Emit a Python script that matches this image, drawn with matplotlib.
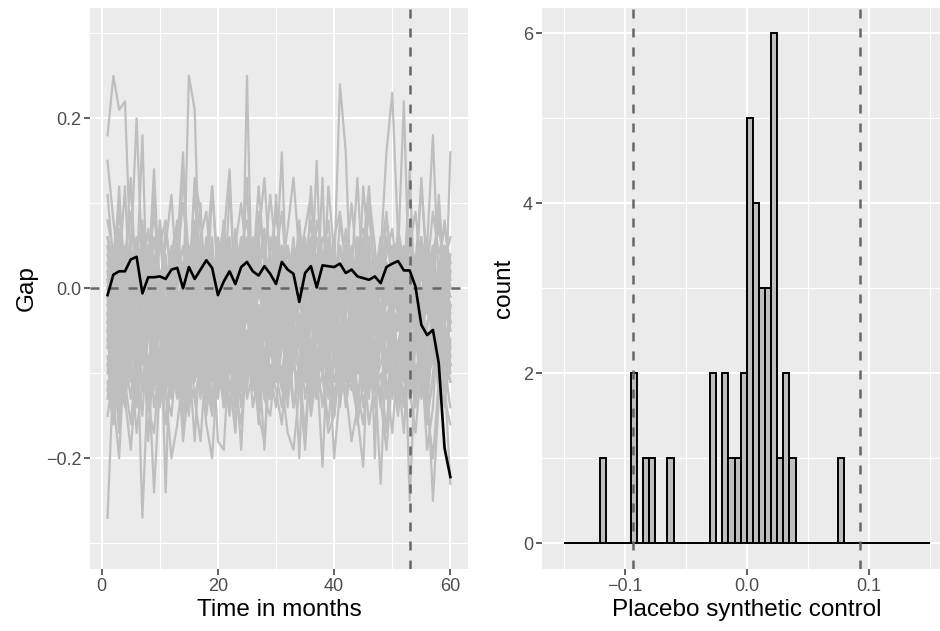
import numpy as np
import matplotlib.pyplot as plt
from matplotlib.ticker import FuncFormatter

plt.rcParams['font.family'] = ['Liberation Sans', 'DejaVu Sans']

# ---------------- data ----------------
months = list(range(1, 61))

# treated unit gap (black line)
treated_gap = [-0.008, 0.016, 0.020, 0.020, 0.034, 0.037, -0.006, 0.013, 0.013, 0.014,
               0.011, 0.022, 0.024, 0.000, 0.025, 0.011, 0.022, 0.033, 0.024, -0.008,
               0.008, 0.020, 0.005, 0.025, 0.031, 0.020, 0.015, 0.026, 0.017, 0.005,
               0.031, 0.022, 0.017, -0.016, 0.018, 0.026, 0.001, 0.027, 0.026, 0.025,
               0.029, 0.018, 0.022, 0.014, 0.012, 0.010, 0.014, 0.006, 0.025, 0.029,
               0.032, 0.021, 0.021, 0.002, -0.043, -0.055, -0.049, -0.088, -0.188, -0.222]

# placebo gaps (grey lines), in hundredths
placebo_gaps_pct = [
    [18,25,21,22,3,-2,1,5,-4,2, 0,-3,4,1,-2,3,-5,0,2,-1, 4,-3,1,6,-2,0,3,-4,2,1, -1,5,-3,0,2,-2,4,1,-4,3, 0,2,-1,5,-3,1,0,4,-2,3, 1,-3,2,0,-4,3,1,-2,5,2],
    [15,8,2,-3,5,0,-6,3,-2,7, -4,1,-8,2,4,-3,0,6,-5,-2, 3,-7,1,4,-1,-6,2,5,-3,0, -4,3,-2,6,-5,1,-3,0,4,-7, 2,-1,5,-4,0,-2,3,-6,1,4, -3,0,-5,2,6,-1,-4,3,0,-2],
    [-27,-10,-6,-12,-4,-8,-2,-9,-5,-13, -7,-3,-10,-6,-11,-4,-8,-12,-5,-9, -3,-10,-7,-14,-6,-2,-9,-11,-5,-8, -12,-4,-7,-10,-3,-9,-13,-6,-8,-4, -11,-7,-5,-10,-2,-8,-12,-6,-9,-4, -7,-11,-5,-3,-9,-13,-6,-8,-10,-7],
    [6,3,9,1,4,20,2,7,-1,5, 8,0,4,10,3,-2,6,9,1,4, 7,2,-3,5,8,1,6,-1,4,9, 2,5,0,7,3,-2,8,4,1,6, 9,3,-1,5,7,2,4,0,8,3, 6,1,5,9,2,-2,4,7,3,6],
    [-5,2,-8,4,-3,1,18,-6,0,-9, 3,-4,-7,2,-1,-10,5,-3,-6,1, -8,0,-4,-11,2,-5,-2,-9,1,-6, -3,-8,4,-1,-7,-4,0,-10,-2,3, -6,-9,-1,-5,2,-8,-3,-7,0,-4, -10,1,-6,-2,-8,-5,3,-9,-1,-4],
    [-3,-9,-5,-12,-7,-4,-27,-10,-6,-2, -11,-8,-5,-13,-3,-9,-6,-1,-10,-7, -4,-12,-8,-5,-2,-9,-6,-11,-3,-7, -10,-5,-8,-1,-6,-12,-4,-9,-7,-3, -8,-11,-5,-2,-10,-6,-9,-4,-13,-7, -3,-8,-11,-6,-2,-9,-5,-12,-7,-4],
    [-8,-13,-20,-6,-10,-14,-3,-9,-24,-11, -5,-12,-7,-15,-9,-4,-11,-13,-6,-10, -8,-14,-5,-12,-9,-3,-10,-7,-13,-8, -11,-6,-14,-9,-4,-12,-8,-10,-5,-13, -7,-11,-9,-6,-14,-8,-12,-4,-10,-7, -13,-9,-6,-11,-8,-14,-5,-10,-12,-9],
    [2,-4,6,-1,3,-6,1,4,-3,0, -24,-2,5,16,-5,2,-1,4,-3,6, 0,-4,3,-2,5,1,-6,2,4,-1, 3,-3,0,6,-2,1,-5,4,2,-4, 5,0,-3,2,-1,6,-4,1,3,-2, 4,-5,0,2,-3,5,1,-4,2,0],
    [-2,4,-5,1,-3,6,-1,3,-4,2, -6,0,5,-2,25,21,-3,2,-5,1, 4,-2,-6,3,0,-4,5,-1,2,-3, -5,1,4,-2,0,3,-6,2,-1,5, -3,0,2,-4,6,-2,1,-5,3,0, -1,4,-3,2,-6,1,5,-2,0,-4],
    [-6,-1,-9,-4,2,-7,-3,-10,-5,0, -8,-2,-6,-11,-3,-7,1,-9,-4,-2, -10,-5,-1,-8,25,-6,-3,-9,-2,-7, -4,-11,-1,-6,-8,-3,-10,-5,0,-7, -2,-9,-4,-6,-1,-8,-5,-3,-10,-6, -2,-7,-9,-4,-1,-8,-6,-3,-5,-9],
    [1,-5,3,-2,-7,0,4,-4,-1,2, -6,3,-3,1,-5,4,-2,-8,0,3, -4,1,-6,2,-1,-5,3,0,-3,5, -2,-7,1,4,-4,0,-1,3,-6,2, 24,16,-3,1,-5,2,-2,4,-4,0, 3,-6,1,-2,5,-3,0,-5,2,-1],
    [-4,0,-7,2,-3,-9,-1,-5,1,-6, -2,-8,0,-4,-10,-3,2,-6,-1,-7, -5,1,-3,-9,-2,-6,0,-4,-8,-1, -7,-3,1,-5,-2,-9,-4,0,-6,-3, -8,-1,-5,-2,-7,0,-4,4,16,23, 6,-3,-6,-1,-8,-4,-2,-7,0,-5],
    [3,-2,5,0,-4,2,6,-1,3,-5, 1,4,-3,0,5,-2,2,-6,3,1, -1,5,-4,2,0,-3,4,1,-2,6, 0,-4,3,-1,5,2,-3,0,4,-2, 1,5,-1,-4,3,0,2,-3,6,1, 4,22,-2,3,-1,5,18,0,-3,2],
    [-10,-5,-13,-8,-3,-11,-7,-14,-4,-9, -12,-6,-2,-10,-15,-5,-8,-11,-3,-13, -7,-9,-4,-12,-6,-10,-14,-2,-8,-5, -11,-13,-6,-3,-9,-7,-12,-4,-10,-8, -5,-14,-9,-3,-11,-6,-8,-13,-4,-10, -7,-2,-25,-9,-12,-5,-8,-3,-6,16],
    [-9,-14,-6,-11,-16,-8,-4,-12,-10,-7, -13,-5,-9,-15,-11,-6,-10,-3,-14,-8, -12,-7,-16,-9,-5,-11,-13,-8,-6,-10, -14,-4,-9,-12,-7,-15,-10,-6,-11,-8, -13,-9,-5,-12,-16,-8,-10,-23,-7,-11, -9,-14,-6,-12,-8,-10,-25,-13,-7,-11],
    [0,-6,-3,-9,1,-5,-8,-2,-10,-4, -7,-1,-11,-6,-3,-9,-5,0,-8,-4, -10,-2,-7,-5,-12,-3,-6,-9,-1,-8, -4,-11,-6,-20,-2,-7,-9,-21,-5,-3, -10,-6,-1,-8,-4,-12,-7,-2,-9,-5, -11,-3,-8,-6,-1,-10,-4,-7,-9,-2],
    [-4,-8,-1,-10,-6,-3,-12,-5,-9,-2, -7,-11,-4,-8,-13,-6,-1,-9,-5,-18, -19,-7,-3,-10,-6,-12,-8,-19,-4,-11, -7,-2,-9,-5,-13,-8,-3,-10,-6,-1, -11,-7,-4,-9,-12,-5,-8,-2,-10,-6, -3,-9,-13,-7,-4,-11,-8,-5,-10,-23],
    [5,-1,7,2,-3,4,8,0,-2,6, 3,-4,1,5,-1,7,2,-3,4,0, 6,14,-2,3,5,-1,2,7,-4,1, 4,0,6,-2,3,8,-1,2,5,-3, 1,4,-2,6,0,3,-20,5,2,-1, 7,3,-2,4,1,6,-3,2,5,0],
    [-1,3,-4,0,-7,2,-3,5,-6,-2, 1,-5,4,-1,-8,2,-3,0,-6,3, -2,-7,1,-4,-1,5,-5,0,-3,2, 16,-4,1,-6,3,-2,0,-5,2,-3, -7,1,-1,4,-4,-2,3,-6,0,-3, 2,-5,-1,3,-4,0,-7,1,-2,-5],
    [-7,-3,-10,-5,-1,-8,-12,-4,-6,-9, -2,-11,-7,-3,-9,-5,-13,-1,-8,-6, -4,-10,-2,-7,-11,-5,-8,-3,-12,-6, -1,-9,-5,-7,-10,-4,-2,13,-8,-11, -6,-3,-9,-5,-1,-12,-7,-4,-10,-2, -8,-6,-11,-3,-9,-5,-7,-1,-4,-8],
    [-12,-7,-15,-3,-9,-13,-6,-10,-2,-14, -8,-5,-11,-16,-4,-9,-12,-7,-3,-10, -13,-6,-9,-19,-5,-11,-8,-2,-12,-7, -10,-14,-4,-9,-6,-13,-11,-3,-8,-15, -5,-10,-12,-7,-2,-9,-14,-6,-11,-17, -8,-13,-3,-10,-7,-12,-5,-9,-14,-6],
    [3,0,12,-3,2,6,-2,1,14,-1, 7,2,-4,3,0,12,-2,4,1,-3, 2,6,-1,0,13,-5,3,1,-2,11, 0,3,-3,2,6,-1,15,-4,1,3, -2,5,0,-3,12,4,-1,6,1,-2, 3,0,14,-4,2,1,-2,11,0,3],
    [-2,-6,1,-4,-9,-1,-5,2,-7,-3, -10,0,-4,-8,-2,3,-6,-1,-9,-5, 1,-3,-7,-4,0,-8,-2,-6,3,-5, -1,-9,-3,2,-7,-4,0,-6,-2,-8, 1,-5,-3,-9,0,-4,-7,2,-6,-1, -3,-8,-5,1,-2,-6,-9,-4,0,-7],
    [8,4,10,2,13,-1,7,3,9,1, 5,11,0,14,3,8,-2,4,12,2, 7,1,5,10,3,-1,6,13,2,4, 9,0,5,3,7,11,1,6,4,-2, 8,3,10,2,5,12,0,4,9,1, 6,3,8,-1,13,2,9,4,7,3],
    [-15,-10,-6,-13,-8,-17,-11,-4,-14,-9, -12,-20,-16,-10,-5,-13,-18,-8,-11,-6, -14,-9,-12,-16,-7,-10,-4,-13,-15,-8, -11,-17,-19,-12,-9,-14,-5,-10,-16,-8, -13,-7,-11,-15,-21,-4,-12,-10,-17,-6, -14,-8,-11,-13,-7,-16,-10,-5,-12,-9],
    [4,-1,2,12,-3,3,0,5,-2,8, 1,-4,6,2,-1,13,9,-2,3,0, 5,-3,7,1,-1,4,2,-5,6,3, -2,5,0,8,-1,3,6,-3,12,4, 0,7,-2,3,5,-4,1,6,-1,2, 4,-3,7,0,3,5,-1,2,8,1],
    [-9,-4,-12,-7,-2,-10,-5,-13,-8,-3, -11,-6,-1,-9,-14,-4,-7,-10,-2,-12, -6,-9,-3,-11,-8,-1,-13,-5,-10,-7, -3,-12,-8,-4,-11,-6,-9,-2,-13,-7, -5,-10,-1,-8,-12,-4,-9,-6,-3,-11, -7,-2,-10,-5,-13,-8,-4,-11,-6,-9],
    [1,-3,4,-6,0,-2,5,-4,2,-1, -5,3,-2,1,-7,4,0,-3,6,-4, -1,2,-6,3,0,-2,5,-5,1,-3, 4,-1,-4,2,-6,0,3,-2,5,-5, 1,-3,4,-1,-7,2,0,-4,3,-2, -5,1,6,-3,0,-1,4,-6,2,-4],
    [-5,-11,-2,-8,-13,-6,-3,-18,-7,-14, -4,-9,-12,-1,-7,-10,-5,-15,-8,-3, -11,-6,-13,-9,-2,-12,-7,-4,-10,-14, -6,-1,-9,-11,-5,-8,-13,-3,-7,-20, -12,-4,-8,-14,-6,-2,-11,-9,-5,-13, -7,-10,-3,-12,-8,-19,-14,-2,-9,-11],
    [6,2,-1,4,9,1,5,-2,3,7, 0,4,8,-1,2,6,3,-3,12,1, 8,-2,4,2,6,0,9,3,-1,5, 2,7,13,4,1,6,-1,3,8,0, 5,2,-2,6,3,9,1,-1,4,7, 0,5,3,-2,6,1,4,8,2,-1],
    [-7,-2,-10,-14,-5,-9,-3,-12,-6,-11, -1,-8,-13,-4,-10,-7,-2,-11,-15,-6, -9,-3,-12,-8,-5,-14,-10,-1,-7,-11, -4,-13,-9,-6,-2,-10,-12,-5,-8,-3, -14,-7,-11,-4,-9,-13,-1,-6,-10,-8, -12,-3,-7,-11,-5,-9,-2,-13,-6,-10],
    [-3,2,-6,0,-4,3,-8,-1,1,-5, -2,4,-7,0,-3,-6,2,-1,-4,5, -8,-2,1,-5,3,-3,-7,0,-1,-6, 2,-4,-2,3,-8,-1,1,-5,-3,4, -6,0,-2,-7,2,-4,-1,3,-5,-3, 0,-8,2,-2,-4,1,-6,-1,3,-3],
    [11,3,-2,5,1,-4,4,-1,6,0, -3,2,7,-2,3,-5,1,4,-1,2, -4,12,0,3,-2,6,-1,1,4,-3, 2,-1,5,0,-4,12,1,-2,6,-1, 3,0,-3,4,2,11,5,-4,1,3, -2,4,0,-1,6,2,-3,1,4,0],
    [-11,-16,-8,-13,-19,-10,-6,-14,-17,-9, -12,-15,-7,-18,-11,-13,-9,-16,-20,-8, -14,-11,-17,-6,-13,-10,-15,-18,-9,-12, -16,-8,-14,-11,-19,-7,-13,-10,-17,-15, -9,-12,-18,-14,-8,-16,-11,-13,-19,-10, -15,-7,-12,-17,-9,-14,-20,-11,-13,-16],
    [0,5,-2,3,-5,1,6,-3,11,-1, 4,-4,0,3,-2,5,-6,1,2,-3, 0,4,-1,6,-4,2,12,3,0,-5, 5,1,-3,2,4,-1,0,-4,3,1, -2,5,2,13,0,4,-5,1,3,-2, 6,0,-1,3,12,2,5,-2,0,4],
    [-6,-12,-4,-9,-1,-14,-7,-3,-11,-5, -8,-13,-2,-10,-6,-4,-12,-9,-1,-7, -11,-5,-14,-3,-8,-10,-6,-13,-2,-9, -5,-12,-7,-4,-11,-1,-8,-14,-6,-3, -10,-13,-5,-9,-2,-7,-12,-4,-8,-11, -1,-6,-9,-14,-3,-10,-7,-5,-12,-8],
    [2,-2,6,-5,0,3,-1,-4,4,1, -3,5,-6,2,-1,0,10,-5,3,-2, 1,-4,5,-1,2,-6,0,3,11,4, -1,2,-5,1,-2,5,-4,0,3,-6, 2,-1,4,-3,0,1,-5,3,-2,5, -4,1,-1,2,-6,4,0,10,1,-2],
    [-13,-8,-17,-5,-11,-9,-15,-3,-12,-7, -16,-10,-4,-13,-8,-18,-6,-11,-14,-2, -9,-15,-7,-12,-10,-4,-16,-8,-13,-6, -11,-3,-14,-9,-17,-7,-12,-5,-10,-15, -8,-13,-6,-16,-11,-4,-9,-14,-7,-12, -10,-17,-5,-13,-8,-15,-11,-3,-9,-14],
    [-4,1,-7,-2,3,-5,-9,0,-3,-6, 2,-8,-1,-4,1,-7,-5,3,-2,-9, -1,-6,2,-3,-8,0,-5,-2,-7,1, -4,-9,-1,3,-6,-3,1,-8,-2,-5, 0,-7,-4,2,-9,-1,-3,-6,1,-4, -8,-2,0,-5,-7,3,-1,-4,-9,-2],
    [-1,-7,3,-4,-10,0,-6,-2,-8,2, -5,-3,-9,1,-6,-11,-2,-4,0,-7, -3,-8,2,-5,-1,-9,-4,1,-6,-10, -2,0,-7,-3,-5,-8,2,-1,-4,-9, -6,1,-3,-10,-2,-5,0,-7,-4,-1, -9,-3,2,-6,-8,0,-5,-2,-7,-4],
]

# placebo synthetic control estimates (histogram)
placebo_values = ([-0.1175] + [-0.0925] * 2 + [-0.0825, -0.0775, -0.0625]
                  + [-0.0275] * 2 + [-0.0175] * 2 + [-0.0125, -0.0075] + [-0.0025] * 2
                  + [0.0025] * 5 + [0.0075] * 4 + [0.0125] * 3 + [0.0175] * 3
                  + [0.0225] * 6 + [0.0275] + [0.0325] * 2 + [0.0375] + [0.0775])

treat_month = 53
cutoff = 0.093

# ---------------- style ----------------
PANEL = '#EBEBEB'
GREY = '#BEBEBE'
DASH = '#666666'


def gg_style(ax):
    ax.set_facecolor(PANEL)
    for s in ax.spines.values():
        s.set_visible(False)
    ax.grid(which='major', color='white', lw=1.5)
    ax.grid(which='minor', color='white', lw=0.8)
    ax.set_axisbelow(True)
    ax.tick_params(which='major', length=4, width=1.1, color='#333333',
                   labelcolor='#4D4D4D', labelsize=13, pad=2.5)
    ax.tick_params(which='minor', length=0)


def fmt(v, _):
    return f'{v:.1f}'.replace('-', '\u2212')


fig = plt.figure(figsize=(9.4, 6.31), dpi=100)
ax1 = fig.add_axes([90.4 / 940, 62.2 / 631, 377.1 / 940, 561 / 631])
ax2 = fig.add_axes([542 / 940, 62.2 / 631, 409.5 / 940, 561 / 631])

# ---- left: gaps over time ----
gg_style(ax1)
gaps = np.array(placebo_gaps_pct) / 100
for row in gaps:
    ax1.plot(months, row, color=GREY, lw=1.6, zorder=2)
ax1.axhline(0, color=DASH, lw=1.8, dashes=(3.6, 4.0), zorder=3)
ax1.axvline(treat_month, color=DASH, lw=1.8, dashes=(3.6, 4.0), zorder=3)
ax1.plot(months, treated_gap, color='black', lw=1.9, zorder=4)

ax1.set_xlim(-1.95, 62.95)
ax1.set_ylim(-0.33, 0.33)
ax1.set_xticks([0, 20, 40, 60])
ax1.set_xticks([10, 30, 50], minor=True)
ax1.set_yticks([-0.2, 0.0, 0.2])
ax1.set_yticks([-0.3, -0.1, 0.1, 0.3], minor=True)
ax1.yaxis.set_major_formatter(FuncFormatter(fmt))
ax1.set_xlabel('Time in months', fontsize=17.5, labelpad=3)
ax1.set_ylabel('Gap', fontsize=17.5, labelpad=6)

# ---- right: histogram ----
gg_style(ax2)
edges = np.linspace(-0.15, 0.15, 61)
ax2.hist(placebo_values, bins=edges, color=GREY, edgecolor='black', lw=1.4, zorder=2)
ax2.hlines(0, -0.15, 0.15, color='black', lw=1.4, zorder=2)
ax2.axvline(-cutoff, color=DASH, lw=1.8, dashes=(3.6, 4.0), zorder=3)
ax2.axvline(cutoff, color=DASH, lw=1.8, dashes=(3.6, 4.0), zorder=3)

ax2.set_xlim(-0.1678, 0.1678)
ax2.set_ylim(-0.3, 6.3)
ax2.set_xticks([-0.1, 0.0, 0.1])
ax2.set_xticks([-0.15, -0.05, 0.05, 0.15], minor=True)
ax2.set_yticks([0, 2, 4, 6])
ax2.set_yticks([1, 3, 5], minor=True)
ax2.xaxis.set_major_formatter(FuncFormatter(fmt))
ax2.set_xlabel('Placebo synthetic control', fontsize=17.5, labelpad=3)
ax2.set_ylabel('count', fontsize=17.5, labelpad=6)

fig.savefig('out.png', dpi=100)
